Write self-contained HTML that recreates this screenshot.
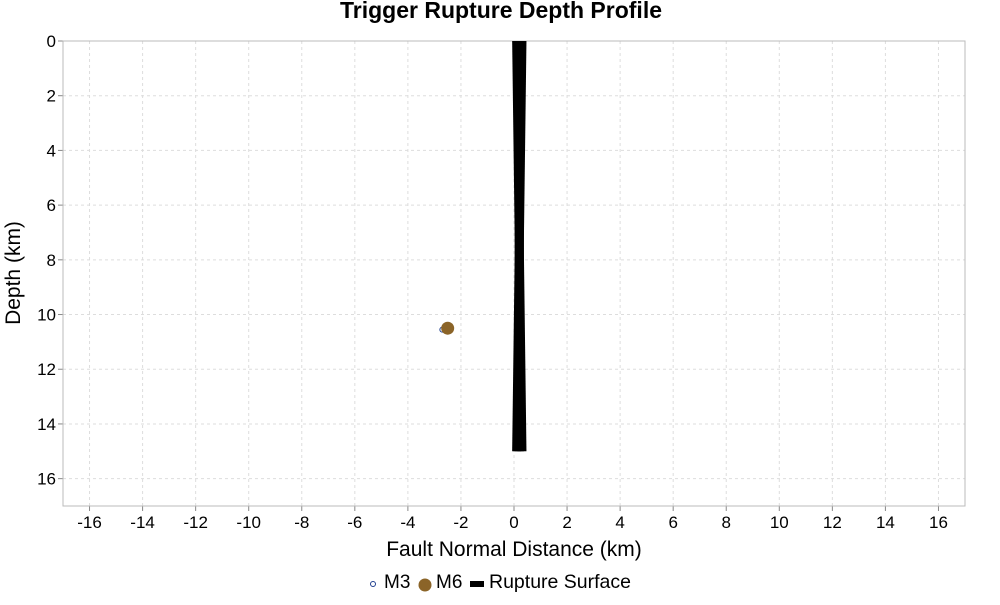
<!DOCTYPE html>
<html><head><meta charset="utf-8"><style>
body{margin:0;background:#fff;font-family:"Liberation Sans",sans-serif}
</style></head><body>
<svg id="c" width="1000" height="600" font-family="Liberation Sans, sans-serif"></svg>
<script>
const xTicks=[-16,-14,-12,-10,-8,-6,-4,-2,0,2,4,6,8,10,12,14,16];
const yTicks=[0,2,4,6,8,10,12,14,16];
const m3X=[-2.7], m3Y=[10.55];
const m6X=[-2.5], m6Y=[10.5];
const ruptureLines=[[[0.1,0],[0.3,15]],[[0.3,0],[0.1,15]],[[0.2,0],[0.2,15]]];
const L=63,R=965,T=41,B=506;
const sx=v=>L+(v+17)/34*(R-L), sy=v=>T+v/17*(B-T);
const svg=document.getElementById('c');const NS='http://www.w3.org/2000/svg';
function mk(t,a,txt){const e=document.createElementNS(NS,t);for(const k in a)e.setAttribute(k,a[k]);if(txt!=null)e.textContent=txt;svg.appendChild(e);return e;}
let e;
e=mk('text',{x:501,y:18,'text-anchor':'middle','font-size':23,'font-weight':'bold'},'Trigger Rupture Depth Profile');


xTicks.forEach(v=>{
 e=mk('line',{x1:sx(v),x2:sx(v),y1:T,y2:B,stroke:'#ddd','stroke-dasharray':'3,3'});
 
 
 e=mk('line',{x1:sx(v),x2:sx(v),y1:B,y2:B+5,stroke:'#888'});
 
 
 e=mk('text',{x:sx(v),y:528,'text-anchor':'middle','font-size':17},String(v));
 
 
});
yTicks.forEach(v=>{
 e=mk('line',{x1:L,x2:R,y1:sy(v),y2:sy(v),stroke:'#ddd','stroke-dasharray':'3,3'});
 
 
 e=mk('line',{x1:L-5,x2:L,y1:sy(v),y2:sy(v),stroke:'#888'});
 
 
 e=mk('text',{x:56,y:sy(v)+6,'text-anchor':'end','font-size':17},String(v));
 
 
});
e=mk('rect',{x:L,y:T,width:R-L,height:B-T,fill:'none',stroke:'#bbb'});


ruptureLines.forEach(seg=>{
 e=mk('line',{x1:sx(seg[0][0]),y1:sy(seg[0][1]),x2:sx(seg[1][0]),y2:sy(seg[1][1]),stroke:'#000','stroke-width':9});
 
 
});
m3X.forEach((x,i)=>{
 e=mk('circle',{cx:sx(x),cy:sy(m3Y[i]),r:2.5,fill:'none',stroke:'#1f3f8f','stroke-width':1});
 
 
});
m6X.forEach((x,i)=>{
 e=mk('circle',{cx:sx(x),cy:sy(m6Y[i]),r:6.5,fill:'#8b6428'});
 
 
});
e=mk('text',{x:514,y:556,'text-anchor':'middle','font-size':21},'Fault Normal Distance (km)');


e=mk('text',{x:20,y:273,'text-anchor':'middle','font-size':21,transform:'rotate(-90 20 273)'},'Depth (km)');


e=mk('circle',{cx:373,cy:584,r:2.5,fill:'none',stroke:'#1f3f8f'});


e=mk('text',{x:384,y:588,'font-size':19},'M3');


e=mk('circle',{cx:425,cy:585,r:6.5,fill:'#8b6428'});


e=mk('text',{x:436,y:588,'font-size':19},'M6');


e=mk('rect',{x:470,y:581,width:14,height:6,fill:'#000'});


e=mk('text',{x:489,y:588,'font-size':19.5},'Rupture Surface');


</script>
</body></html>
